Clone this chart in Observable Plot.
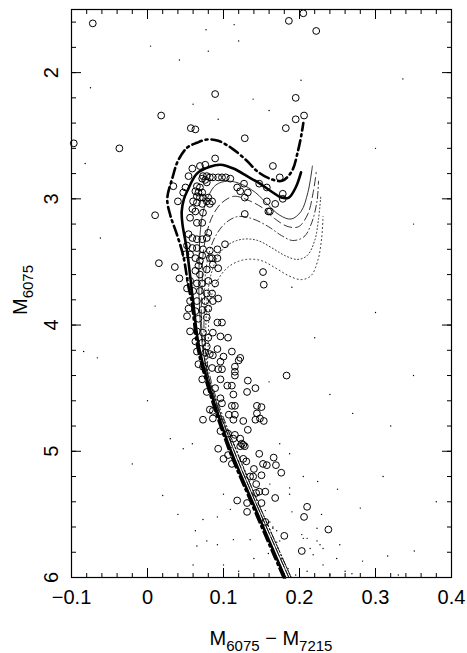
<!DOCTYPE html>
<html><head><meta charset="utf-8">
<script src="https://cdn.jsdelivr.net/npm/d3@7"></script>
<script src="https://cdn.jsdelivr.net/npm/@observablehq/plot@0.6"></script>
<style>body{margin:0;background:#fff} svg{display:block}</style>
</head><body><div id="chart"></div>
<script>
// Observed stars (open circles): [colour, magnitude]
const circles = [
 [-0.072,1.61],[0.186,1.59],[0.205,1.53],[0.222,1.67],[0.089,2.17],[0.195,2.20],
 [0.018,2.34],[0.195,2.37],[0.206,2.34],[0.057,2.44],[0.063,2.45],[0.182,2.44],
 [0.128,2.52],[-0.097,2.56],[-0.037,2.60],[0.089,2.68],[0.165,2.74],[0.174,2.83],
 [0.178,2.96],[0.178,3.00],[0.159,3.10],[0.010,3.13],[0.152,3.58],[0.153,3.68],
 [0.059,2.76],[0.054,2.82],[0.069,2.74],[0.076,2.73],[0.073,2.82],[0.078,2.82],[0.082,2.83],[0.086,2.83],
 [0.093,2.83],[0.098,2.83],[0.103,2.83],[0.109,2.84],[0.072,2.84],[0.076,2.85],[0.078,2.87],[0.034,2.90],
 [0.050,2.91],[0.047,2.95],[0.065,2.90],[0.069,2.91],[0.063,2.94],[0.067,2.95],[0.072,2.95],[0.065,2.98],
 [0.069,2.99],[0.073,2.99],[0.080,2.99],[0.085,3.02],[0.082,3.04],[0.078,3.02],[0.118,2.91],[0.122,2.94],
 [0.127,2.88],[0.132,2.95],[0.128,2.99],[0.147,2.88],[0.157,2.91],[0.040,3.02],[0.060,3.02],[0.065,3.03],
 [0.072,3.04],[0.059,3.08],[0.063,3.10],[0.073,3.11],[0.056,3.15],[0.065,3.19],[0.072,3.19],[0.128,3.12],
 [0.157,3.02],[0.168,3.04],[0.161,3.10],[0.054,3.28],[0.059,3.31],[0.065,3.32],[0.072,3.32],[0.080,3.27],
 [0.078,3.31],[0.052,3.37],[0.059,3.39],[0.065,3.39],[0.073,3.40],[0.082,3.41],[0.092,3.40],[0.102,3.36],
 [0.050,3.44],[0.056,3.44],[0.063,3.47],[0.072,3.45],[0.085,3.47],
 [0.015,3.51],[0.036,3.54],[0.042,3.63],[0.082,3.47],[0.092,3.47],[0.086,3.52],[0.093,3.55],[0.078,3.56],
 [0.069,3.49],[0.067,3.53],[0.063,3.57],[0.069,3.60],[0.056,3.65],[0.065,3.67],[0.072,3.67],[0.080,3.65],
 [0.089,3.67],[0.052,3.71],[0.060,3.73],[0.069,3.73],[0.078,3.75],[0.085,3.75],[0.056,3.81],[0.065,3.81],
 [0.076,3.81],[0.086,3.81],[0.093,3.79],[0.054,3.87],[0.063,3.89],[0.072,3.88],[0.080,3.87],[0.052,3.93],
 [0.067,3.95],[0.078,3.94],[0.092,3.98],[0.098,3.98],[0.056,4.05],[0.065,4.05],[0.073,4.06],[0.086,4.06],
 [0.080,4.10],[0.063,4.13],[0.072,4.14],[0.078,4.17],[0.092,4.19],[0.096,4.09],[0.106,4.10],[0.065,4.21],
 [0.076,4.22],[0.082,4.23],[0.100,4.25],[0.111,4.21],[0.122,4.26],[0.086,4.24],[0.120,4.28],[0.096,4.29],
 [0.067,4.31],[0.073,4.33],[0.085,4.34],[0.093,4.35],[0.098,4.35],[0.115,4.33],[0.115,4.37],[0.115,4.40],
 [0.072,4.43],[0.096,4.43],[0.105,4.48],[0.111,4.48],[0.113,4.55],[0.132,4.44],[0.131,4.53],[0.142,4.50],
 [0.078,4.53],[0.089,4.50],[0.096,4.58],[0.098,4.62],[0.183,4.40],[0.082,4.67],[0.086,4.68],[0.111,4.64],
 [0.115,4.64],[0.107,4.71],[0.115,4.71],[0.144,4.64],[0.150,4.65],[0.144,4.70],[0.142,4.75],[0.153,4.76],
 [0.148,4.74],[0.073,4.75],[0.086,4.74],[0.113,4.75],[0.126,4.76],[0.132,4.83],[0.096,4.84],[0.106,4.86],
 [0.115,4.87],[0.122,4.90],[0.124,4.94],[0.113,4.90],[0.122,4.96],[0.128,4.96],[0.093,4.98],[0.100,5.06],
 [0.106,5.03],[0.126,5.06],[0.147,5.02],[0.166,5.05],[0.126,4.95],[0.169,5.11],[0.176,5.17],[0.111,5.10],
 [0.130,5.08],[0.140,5.14],[0.152,5.10],[0.157,5.11],[0.135,5.20],[0.139,5.20],[0.150,5.19],[0.143,5.26],
 [0.147,5.32],[0.155,5.32],[0.143,5.33],[0.118,5.39],[0.131,5.41],[0.150,5.41],[0.168,5.37],[0.131,5.48],
 [0.155,5.56],[0.210,5.44],[0.206,5.52],[0.238,5.62],[0.180,5.67],[0.203,5.79]
];
// Field stars (small dots)
const dots = [
 [0.047,4.98],[0.063,5.63],[0.073,5.54],[0.078,5.71],[0.100,5.34],[0.109,5.46],[0.113,5.70],[0.135,5.70],
 [0.161,5.56],[0.170,5.63],[0.187,5.34],[0.190,5.48],[0.203,5.66],[0.214,5.77],[0.223,5.71],[0.229,5.50],
 [0.224,5.24],[0.205,5.20],[0.187,5.02],[0.174,4.94],[0.161,5.26],[0.060,5.90],[0.092,5.74],[0.159,5.81],
 [0.165,5.61],[0.205,5.69],[0.210,5.95],[0.218,5.82],[0.227,5.74],[0.231,5.90],[0.249,5.85],[0.253,5.74],
 [0.269,5.97],[0.283,5.87],[0.316,5.83],[0.351,5.79],[0.059,4.94],[0.092,5.52],[0.157,5.58],[0.174,5.71],
 [0.187,5.29],[0.210,5.69],[0.223,5.61],[0.231,5.77],[0.065,5.75],[0.004,1.79],[0.042,1.90],[0.077,1.66],
 [0.080,1.83],[0.114,1.62],[-0.075,2.12],[0.139,2.21],[0.093,2.37],[0.202,2.06],[0.336,2.05],[-0.082,2.72],
 [-0.062,3.31],[-0.084,4.21],[-0.066,4.26],[0.35,4.4],[0.30,3.9],[0.27,4.7],[0.24,4.55],[0.31,5.2],
 [0.38,5.4],[0.0,4.6],[-0.02,5.1],[0.02,5.35],[0.04,5.5],[0.03,4.9],[0.25,5.3],[0.28,5.45],[0.26,5.95],
 [0.33,5.98],[0.12,5.95],[0.14,5.85],[0.10,5.9],[0.16,4.45],[0.19,3.7],[0.22,4.1],[0.01,3.85],[0.06,2.25],
 [0.16,2.3],[0.12,1.75],[0.3,2.6],[0.35,3.2],[0.32,4.8],[0.100,4.85],[0.110,4.97],[0.120,5.08],[0.130,5.2],
 [0.145,5.35],[0.155,5.47],[0.165,5.60],[0.170,5.72],[0.176,5.85],[0.185,5.93],[0.195,5.98],[0.240,5.98]
];
// Isochrones
const isoThickSolid = [[0.181,6.0],[0.138,5.40],[0.105,4.92],[0.069,4.21],[0.060,3.81],[0.052,3.41],[0.046,3.20],
 [0.045,3.10],[0.048,3.00],[0.053,2.93],[0.065,2.80],[0.082,2.746],[0.096,2.73],[0.113,2.76],[0.131,2.82],
 [0.148,2.88],[0.165,2.95],[0.176,2.99],[0.186,2.99],[0.195,2.91],[0.202,2.79]];
const isoThickDashDot = [[0.179,6.0],[0.136,5.40],[0.103,4.92],[0.067,4.21],[0.058,3.81],[0.054,3.70],[0.047,3.45],
 [0.038,3.27],[0.030,3.13],[0.026,3.0],[0.033,2.83],[0.040,2.70],[0.052,2.595],[0.065,2.556],[0.078,2.53],
 [0.093,2.54],[0.111,2.60],[0.131,2.70],[0.144,2.78],[0.161,2.84],[0.177,2.857],[0.190,2.78],[0.198,2.62],
 [0.203,2.476],[0.205,2.40]];
const isoThinSolid = [[0.186,6.0],[0.142,5.40],[0.109,4.92],[0.076,4.30],[0.068,3.81],[0.068,3.49],[0.069,3.29],
 [0.073,3.11],[0.080,2.98],[0.090,2.89],[0.105,2.86],[0.122,2.88],[0.142,2.95],[0.159,3.05],[0.174,3.13],
 [0.189,3.16],[0.202,3.10],[0.211,2.95],[0.217,2.74]];
const isoThinDash = [[0.186,6.0],[0.142,5.40],[0.109,4.92],[0.079,4.40],[0.071,3.97],[0.072,3.65],[0.073,3.45],
 [0.078,3.27],[0.086,3.13],[0.098,3.03],[0.114,2.98],[0.132,3.01],[0.151,3.07],[0.168,3.16],[0.185,3.22],
 [0.199,3.22],[0.211,3.12],[0.218,2.95],[0.222,2.79]];
const isoThinDashDot = [[0.189,6.0],[0.145,5.40],[0.112,4.92],[0.084,4.45],[0.075,4.13],[0.075,3.81],[0.076,3.61],
 [0.081,3.43],[0.090,3.29],[0.103,3.19],[0.119,3.14],[0.139,3.16],[0.159,3.22],[0.176,3.29],[0.191,3.33],
 [0.206,3.30],[0.216,3.19],[0.223,3.02],[0.225,2.86]];
const isoDotted1 = [[0.189,6.0],[0.145,5.40],[0.112,4.92],[0.087,4.55],[0.077,4.29],[0.077,3.97],[0.079,3.77],
 [0.084,3.59],[0.094,3.44],[0.107,3.36],[0.125,3.32],[0.145,3.33],[0.164,3.39],[0.181,3.45],[0.197,3.48],
 [0.210,3.45],[0.220,3.33],[0.225,3.16],[0.228,2.98]];
const isoDotted2 = [[0.189,6.0],[0.145,5.40],[0.112,4.92],[0.090,4.65],[0.080,4.44],[0.080,4.13],[0.081,3.93],
 [0.085,3.75],[0.097,3.60],[0.111,3.52],[0.130,3.48],[0.150,3.49],[0.169,3.55],[0.186,3.61],[0.202,3.64],
 [0.215,3.61],[0.224,3.49],[0.229,3.32],[0.231,3.14]];

const xMajor = [-0.1, 0, 0.1, 0.2, 0.3, 0.4];
const xMinor = d3.range(-0.1, 0.4001, 0.02);
const yMajor = [2, 3, 4, 5, 6];
const yMinor = d3.range(1.6, 6.001, 0.2);

const X = d => d[0], Y = d => d[1];
const fmt = d => d < 0 ? "\u2212" + Math.abs(d) : String(d);
const line = (data, o) => Plot.line(data, {x: X, y: Y, curve: "catmull-rom", stroke: "black", ...o});

const svg = Plot.plot({
  width: 467, height: 653,
  marginLeft: 71, marginRight: 16, marginTop: 9, marginBottom: 76,
  style: {fontFamily: "'Liberation Sans', Arial, sans-serif", fontSize: "20px", background: "white", color: "black"},
  x: {domain: [-0.1, 0.4]},
  y: {domain: [1.5, 6], reverse: true},
  marks: [
    Plot.frame({stroke: "black", strokeWidth: 1.2}),
    Plot.axisX(xMinor, {anchor: "bottom", tickSize: -4, fill: "none", label: null}),
    Plot.axisX(xMajor, {anchor: "bottom", tickSize: -9, fill: "none", label: null}),
    Plot.axisX(xMinor, {anchor: "top", tickSize: -4, fill: "none", label: null}),
    Plot.axisX(xMajor, {anchor: "top", tickSize: -9, fill: "none", label: null}),
    Plot.axisX(xMajor, {anchor: "bottom", tickSize: 0, tickPadding: 12, tickFormat: fmt, label: null, stroke: "none"}),
    Plot.axisY(yMinor, {anchor: "left", tickSize: -5, fill: "none", label: null}),
    Plot.axisY(yMajor, {anchor: "left", tickSize: -10, fill: "none", label: null}),
    Plot.axisY(yMinor, {anchor: "right", tickSize: -5, fill: "none", label: null}),
    Plot.axisY(yMajor, {anchor: "right", tickSize: -10, fill: "none", label: null}),
    Plot.axisY(yMajor, {anchor: "left", tickSize: 0, tickPadding: 14, tickRotate: -90, tickFormat: fmt, label: null, stroke: "none"}),
    line(isoDotted2, {strokeWidth: 0.8, strokeDasharray: "1,3"}),
    line(isoDotted1, {strokeWidth: 0.8, strokeDasharray: "1,2.5"}),
    line(isoThinDashDot, {strokeWidth: 0.8, strokeDasharray: "7,3,1,3"}),
    line(isoThinDash, {strokeWidth: 0.8, strokeDasharray: "8,4"}),
    line(isoThinSolid, {strokeWidth: 0.8}),
    line(isoThickDashDot, {strokeWidth: 2.6, strokeDasharray: "10,4,2,4"}),
    line(isoThickSolid, {strokeWidth: 2.6}),
    Plot.dot(dots, {x: X, y: Y, r: 0.7, fill: "black", stroke: "none"}),
    Plot.dot(circles, {x: X, y: Y, r: 3.4, stroke: "black", strokeWidth: 1, fill: "none"})
  ]
});

const s = d3.select(svg);
const xt = s.append("text").attr("x", 271).attr("y", 645).attr("text-anchor", "middle")
  .attr("font-size", 20).attr("fill", "black");
xt.append("tspan").text("M");
xt.append("tspan").attr("font-size", 15).attr("dy", 6).text("6075");
xt.append("tspan").attr("dy", -6).text(" \u2212 M");
xt.append("tspan").attr("font-size", 15).attr("dy", 6).text("7215");
const yt = s.append("text").attr("transform", "translate(27,290) rotate(-90)").attr("text-anchor", "middle")
  .attr("font-size", 20).attr("fill", "black");
yt.append("tspan").text("M");
yt.append("tspan").attr("font-size", 15).attr("dy", 6).text("6075");

document.getElementById("chart").appendChild(svg);
</script>
</body></html>
